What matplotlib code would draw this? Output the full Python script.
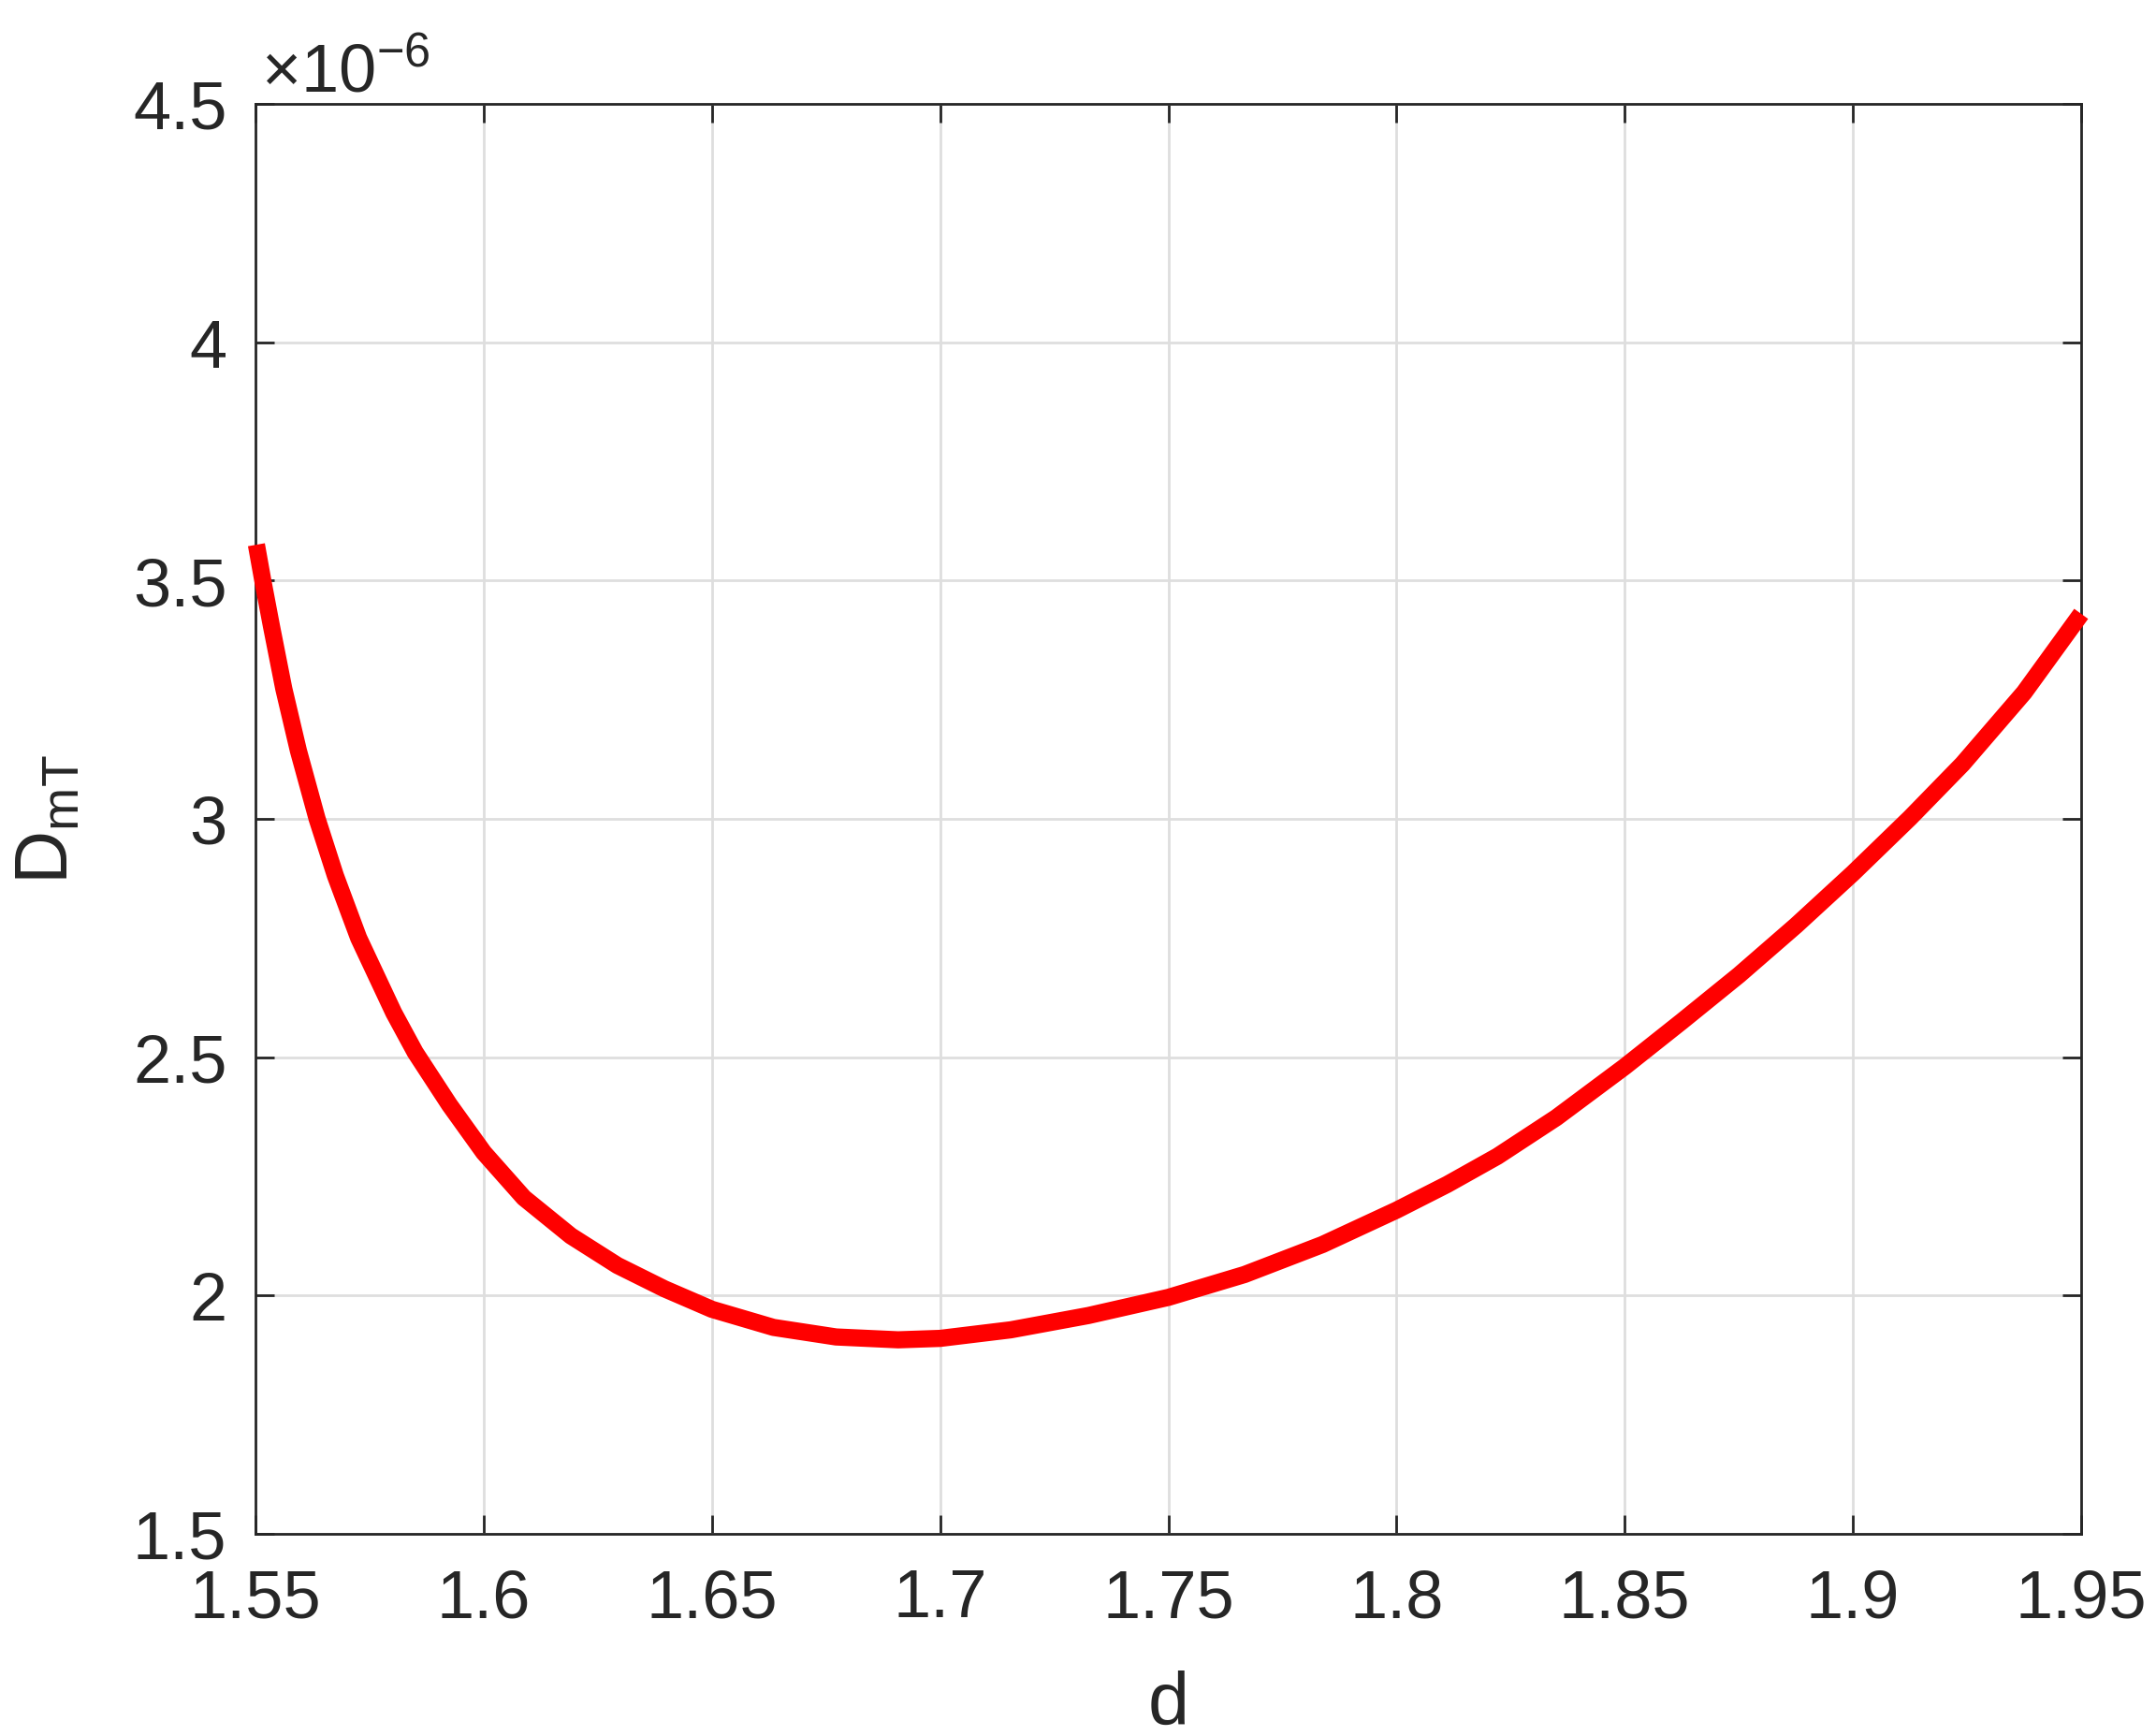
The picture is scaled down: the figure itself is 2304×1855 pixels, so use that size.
import matplotlib
matplotlib.use('Agg')
import matplotlib.pyplot as plt
from matplotlib.ticker import FuncFormatter

plt.rcParams['font.family'] = ['Liberation Sans', 'DejaVu Sans']
plt.rcParams['mathtext.fontset'] = 'custom'
plt.rcParams['mathtext.rm'] = 'Liberation Sans'
plt.rcParams['mathtext.it'] = 'Liberation Sans:italic'

# d values and D_mT (in units of 1e-6)
d = [1.5502, 1.5516, 1.5535, 1.5562, 1.5594, 1.5635, 1.5675, 1.5726, 1.5803,
     1.585, 1.5925, 1.6, 1.6088, 1.6191, 1.6293, 1.6396, 1.65, 1.6635,
     1.6772, 1.6908, 1.70, 1.7155, 1.7325, 1.75, 1.7667, 1.7838, 1.80,
     1.8111, 1.8221, 1.835, 1.85, 1.8625, 1.875, 1.8875, 1.90, 1.9125,
     1.924, 1.9375, 1.95]
D_mT = [3.575, 3.50, 3.404, 3.273, 3.143, 3.00, 2.881, 2.75, 2.593,
        2.51, 2.40, 2.30, 2.205, 2.125, 2.063, 2.014, 1.971, 1.933,
        1.913, 1.907, 1.910, 1.928, 1.958, 1.996, 2.044, 2.107, 2.179,
        2.233, 2.292, 2.373, 2.48, 2.575, 2.672, 2.776, 2.886, 3.002,
        3.115, 3.265, 3.43]

x_ticks = [1.55, 1.6, 1.65, 1.7, 1.75, 1.8, 1.85, 1.9, 1.95]
y_ticks = [1.5, 2, 2.5, 3, 3.5, 4, 4.5]

dark = '#262626'

fig = plt.figure(figsize=(11.52, 9.28), dpi=200)
ax = fig.add_axes([0.1185, 0.1164, 0.8468, 0.8233])

ax.plot(d, D_mT, color='#ff0000', linewidth=6.6, solid_capstyle='butt',
        solid_joinstyle='round', clip_on=False, zorder=3)

ax.set_xlim(1.55, 1.95)
ax.set_ylim(1.5, 4.5)
ax.set_xticks(x_ticks)
ax.set_yticks(y_ticks)
fmt = FuncFormatter(lambda v, p: '%g' % v)
ax.xaxis.set_major_formatter(fmt)
ax.yaxis.set_major_formatter(fmt)

ax.grid(True, color='#dedede', linewidth=1.0)
ax.set_axisbelow(True)
for s in ax.spines.values():
    s.set_color(dark)
    s.set_linewidth(1.0)

ax.tick_params(direction='in', length=7.2, width=1.0, color=dark,
               labelcolor=dark, labelsize=26, top=True, right=True)
ax.tick_params(axis='x', pad=13)
ax.tick_params(axis='y', pad=11)

ax.set_xlabel('d', fontsize=28.5, color=dark, labelpad=15)
ax.set_ylabel(r'D$_{\mathrm{mT}}$', fontsize=28.5, color=dark, labelpad=19)

ax.text(0.003, 1.009, r'$\times10^{\mathrm{-6}}$', transform=ax.transAxes,
        fontsize=26, color=dark, ha='left', va='baseline')

fig.savefig('out.png', dpi=200)
